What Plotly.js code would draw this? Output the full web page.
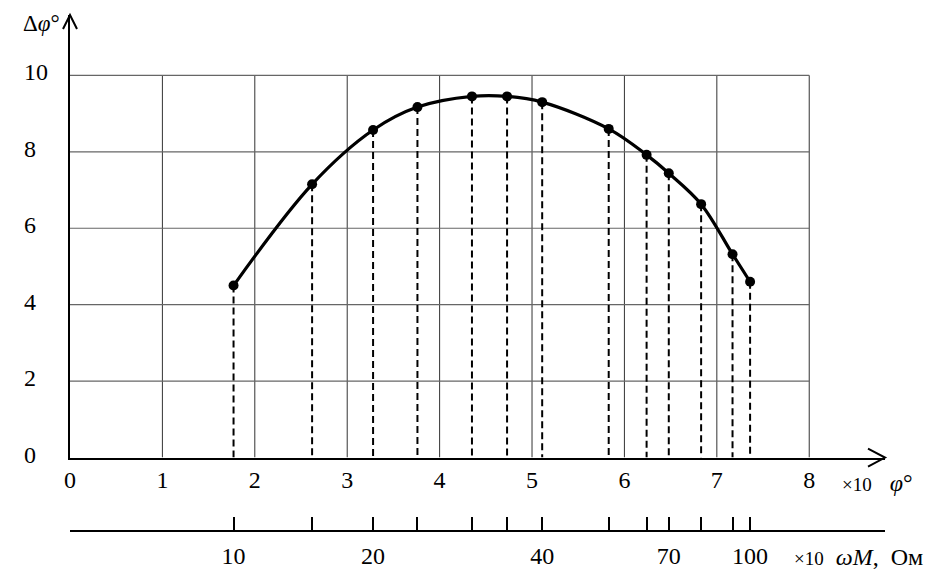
<!DOCTYPE html>
<html>
<head>
<meta charset="utf-8">
<script src="https://cdn.plot.ly/plotly-3.0.1.min.js"></script>
<style>
  body { margin: 0; background: #fff; }
  #plot { width: 935px; height: 585px; }
</style>
</head>
<body>
<div id="plot"></div>
<script>
// phase angle phi (x10 deg) and phase error dphi (deg)
var phi = [1.77, 2.62, 3.28, 3.76, 4.35, 4.73, 5.11, 5.83, 6.24, 6.48, 6.83, 7.17, 7.36];
var dphi = [4.5, 7.15, 8.57, 9.17, 9.45, 9.45, 9.3, 8.6, 7.92, 7.44, 6.63, 5.32, 4.6];
// omega*M (x10 Ohm) for each point, only some are labelled
var wM = [10, 15, 20, 25, 30, 35, 40, 50, 60, 70, 80, 90, 100];
var wMShown = [10, 20, 40, 70, 100];

var xTicks = [0, 1, 2, 3, 4, 5, 6, 7, 8];
var yTicks = [0, 2, 4, 6, 8, 10];

var serif = "Liberation Serif, Times New Roman, serif";
var xMax = 8.82;
var yMax = 11.58;
var yBottom = 0.1424;

// dashed drops from every point to the axis
var dropX = [];
var dropY = [];
for (var i = 0; i < phi.length; i++) {
    dropX.push(phi[i], phi[i], null);
    dropY.push(dphi[i], 0, null);
}

var drops = {
    x: dropX,
    y: dropY,
    xaxis: 'x2',
    type: 'scatter',
    mode: 'lines',
    line: {color: 'black', width: 2, dash: '7px,4px'},
    hoverinfo: 'skip',
    showlegend: false
};

var curve = {
    x: phi,
    y: dphi,
    type: 'scatter',
    mode: 'lines+markers',
    line: {color: 'black', width: 3.2, shape: 'spline', smoothing: 1},
    marker: {color: 'black', size: 10},
    showlegend: false
};

// second axis text: labels only where wM is in wMShown
var wMText = [''];
var wMVals = [0];
for (var i = 0; i < phi.length; i++) {
    wMVals.push(phi[i]);
    wMText.push(wMShown.indexOf(wM[i]) >= 0 ? String(wM[i]) : '');
}

var shapes = [];
for (var i = 1; i < xTicks.length; i++) {
    shapes.push({type: 'line', xref: 'x', yref: 'y', layer: 'below',
        x0: xTicks[i], x1: xTicks[i], y0: 0, y1: yTicks[yTicks.length - 1],
        line: {color: '#333', width: 1}});
}
for (var i = 1; i < yTicks.length; i++) {
    shapes.push({type: 'line', xref: 'x', yref: 'y', layer: 'below',
        x0: 0, x1: xTicks[xTicks.length - 1], y0: yTicks[i], y1: yTicks[i],
        line: {color: '#666', width: 1.2}});
}
// arrow heads (paper refs so they are not clipped)
shapes.push({type: 'path', xref: 'paper', yref: 'paper', xsizemode: 'pixel', ysizemode: 'pixel',
    xanchor: 0, yanchor: 1, path: 'M-7,-14L0,0L7,-14', line: {color: 'black', width: 2}});
shapes.push({type: 'path', xref: 'paper', yref: 'paper', xsizemode: 'pixel', ysizemode: 'pixel',
    xanchor: 1, yanchor: yBottom, path: 'M-17,9L0,0L-17,-9', line: {color: 'black', width: 2}});

var annotations = [];
for (var i = 0; i < yTicks.length; i++) {
    annotations.push({xref: 'paper', yref: 'y', x: -48 / 815, y: yTicks[i], xanchor: 'left',
        yanchor: 'middle', yshift: 3, text: String(yTicks[i]), showarrow: false,
        font: {family: serif, size: 24, color: 'black'}});
}
annotations.push({xref: 'paper', yref: 'paper', x: -29 / 815, y: 0.984, xanchor: 'center', yanchor: 'middle',
    text: '\u0394<i>\u03c6</i>\u00b0', showarrow: false, font: {family: serif, size: 23, color: 'black'}});
annotations.push({xref: 'paper', yref: 'paper', x: (840 - 70) / 815, y: 0.093, xanchor: 'left', yanchor: 'middle',
    text: '<span style="font-size:19px">\u00d710</span>&nbsp;&nbsp;&nbsp;<i>\u03c6</i>\u00b0', showarrow: false,
    font: {family: serif, size: 24, color: 'black'}});
annotations.push({xref: 'paper', yref: 'paper', x: (792 - 70) / 815, y: -0.05, xanchor: 'left', yanchor: 'middle',
    text: '<span style="font-size:19px">\u00d710</span>&nbsp;&nbsp;<i>\u03c9M</i>,&nbsp;&nbsp;\u041e\u043c',
    showarrow: false, font: {family: serif, size: 24, color: 'black'}});

var layout = {
    width: 935,
    height: 585,
    margin: {l: 70, r: 50, t: 15, b: 54},
    paper_bgcolor: 'white',
    plot_bgcolor: 'white',
    showlegend: false,
    xaxis: {
        range: [0, xMax],
        anchor: 'y',
        showline: true, linecolor: 'black', linewidth: 2,
        showgrid: false, zeroline: false,
        ticks: '', tickvals: xTicks,
        ticklabelstandoff: 0,
        tickfont: {family: serif, size: 24, color: 'black'}
    },
    xaxis2: {
        range: [0, xMax],
        overlaying: 'x',
        anchor: 'free',
        position: 0,
        side: 'bottom',
        showline: true, linecolor: 'black', linewidth: 2,
        showgrid: false, zeroline: false,
        ticks: 'inside', ticklen: 13, tickwidth: 2, tickcolor: 'black',
        tickvals: wMVals, ticktext: wMText,
        ticklabelstandoff: 3,
        tickfont: {family: serif, size: 24, color: 'black'}
    },
    yaxis: {
        domain: [yBottom, 1],
        range: [0, yMax],
        showline: true, linecolor: 'black', linewidth: 2,
        showgrid: false, zeroline: false,
        ticks: '', showticklabels: false
    },
    shapes: shapes,
    annotations: annotations
};

Plotly.newPlot('plot', [drops, curve], layout, {staticPlot: true});
</script>
</body>
</html>
